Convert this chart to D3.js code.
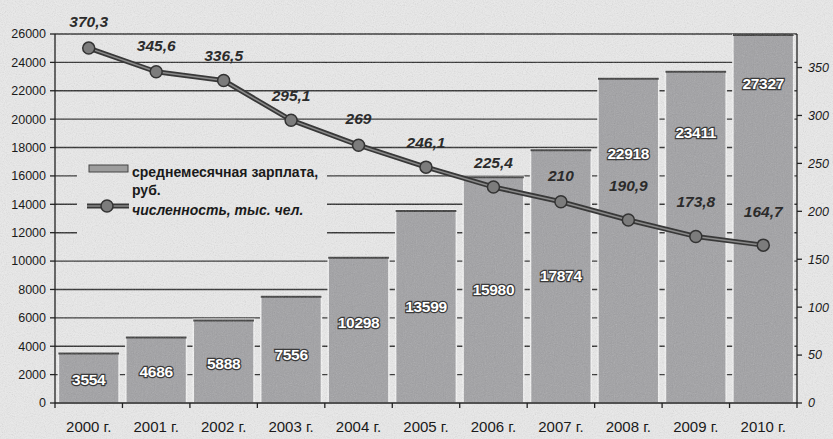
<!DOCTYPE html>
<html><head><meta charset="utf-8">
<script src="https://cdn.jsdelivr.net/npm/d3@7"></script>
<style>
html,body{margin:0;padding:0;background:#e4e4e4;}
svg{display:block;}
</style></head>
<body>
<svg id="chart" width="833" height="439"></svg>
<script>
// ---- data ----
const years = ["2000 г.","2001 г.","2002 г.","2003 г.","2004 г.","2005 г.","2006 г.","2007 г.","2008 г.","2009 г.","2010 г."];
const salary = [3554, 4686, 5888, 7556, 10298, 13599, 15980, 17874, 22918, 23411, 27327];
const staff = [370.3, 345.6, 336.5, 295.1, 269, 246.1, 225.4, 210, 190.9, 173.8, 164.7];
const staffLabels = ["370,3","345,6","336,5","295,1","269","246,1","225,4","210","190,9","173,8","164,7"];
const leftTicks = [0,2000,4000,6000,8000,10000,12000,14000,16000,18000,20000,22000,24000,26000];
const rightTicks = [0,50,100,150,200,250,300,350];
const legendLabels = ["среднемесячная зарплата,", "руб.", "численность, тыс. чел."];

// ---- layout (pixels) ----
const L = 55, R = 797, T = 34, B = 403;
const barLabelDy = [27,35,44,59,66,97,113,126,76,62,50];
const lineLabelDy = [27,26,25,25,27,25,24,26,34,35,34];
const FONT = "'Liberation Sans', Arial, sans-serif";

const svg = d3.select("#chart");
const defs = svg.append("defs");
const f = defs.append("filter").attr("id","noise").attr("x",0).attr("y",0).attr("width","100%").attr("height","100%");
f.append("feTurbulence").attr("type","fractalNoise").attr("baseFrequency",0.9).attr("numOctaves",2).attr("seed",3).attr("result","n");
f.append("feColorMatrix").attr("type","saturate").attr("values",0);
const ct = f.append("feComponentTransfer");
ct.append("feFuncA").attr("type","linear").attr("slope",0.3);
defs.append("clipPath").attr("id","plotclip").append("rect").attr("x",L-2).attr("y",T).attr("width",R-L+4).attr("height",B-T);

svg.append("rect").attr("width",833).attr("height",439).attr("fill","#ebebeb");

const x = d3.scaleBand().domain(years).range([L,R]).paddingInner(0.1).paddingOuter(0.05);
const yL = d3.scaleLinear().domain([0,26000]).range([B,T]);
const yR = d3.scaleLinear().domain([0,385]).range([B,T]);

// gridlines
svg.append("g").selectAll("line").data(leftTicks.filter(d=>d>0)).join("line")
  .attr("x1",L).attr("x2",R).attr("y1",d=>yL(d)).attr("y2",d=>yL(d))
  .attr("stroke","#2a2a2a").attr("stroke-width",1.4);

// legend box mask
svg.append("rect").attr("x",77).attr("y",152).attr("width",250).attr("height",92).attr("fill","#ebebeb");

// bars
const bars = svg.append("g").attr("clip-path","url(#plotclip)");
bars.selectAll("rect").data(salary).join("rect")
  .attr("x",(d,i)=>x(years[i])).attr("width",x.bandwidth())
  .attr("y",d=>yL(d)).attr("height",d=>B-yL(d))
  .attr("fill","#a0a0a3").attr("stroke","#f6f6f6").attr("stroke-width",1.5);
bars.selectAll("line.top").data(salary).join("line").attr("class","top")
  .attr("x1",(d,i)=>x(years[i])).attr("x2",(d,i)=>x(years[i])+x.bandwidth())
  .attr("y1",d=>Math.max(yL(d),T)+1).attr("y2",d=>Math.max(yL(d),T)+1)
  .attr("stroke","#3a3a3a").attr("stroke-width",2);

// noise overlay
svg.append("rect").attr("width",833).attr("height",439).attr("filter","url(#noise)");

// axes lines
const ax = svg.append("g").attr("stroke","#222").attr("stroke-width",1.3);
ax.append("line").attr("x1",L).attr("x2",L).attr("y1",T).attr("y2",B);
ax.append("line").attr("x1",L).attr("x2",R).attr("y1",B).attr("y2",B);
ax.append("line").attr("x1",R).attr("x2",R).attr("y1",T).attr("y2",B);
ax.selectAll("line.lt").data(leftTicks).join("line").attr("class","lt")
  .attr("x1",L-5).attr("x2",L).attr("y1",d=>yL(d)).attr("y2",d=>yL(d));
ax.selectAll("line.rt").data(rightTicks).join("line").attr("class","rt")
  .attr("x1",R).attr("x2",R+5).attr("y1",d=>yR(d)).attr("y2",d=>yR(d));
const bounds = years.map(d=>x(d)-x.step()*x.paddingInner()/2).concat([R]);
bounds[0] = L;
ax.selectAll("line.xt").data(bounds).join("line").attr("class","xt")
  .attr("x1",d=>d).attr("x2",d=>d).attr("y1",B).attr("y2",B+5);

// axis labels
svg.append("g").selectAll("text").data(leftTicks).join("text")
  .attr("x",L-9).attr("y",d=>yL(d)).attr("dy","0.35em").attr("text-anchor","end")
  .attr("font-family",FONT).attr("font-size",12.5).attr("fill","#1a1a1a").text(d=>d);
svg.append("g").selectAll("text").data(rightTicks).join("text")
  .attr("x",R+11).attr("y",d=>yR(d)).attr("dy","0.35em").attr("text-anchor","start")
  .attr("font-family",FONT).attr("font-size",12.5).attr("font-style","italic").attr("fill","#1a1a1a").text(d=>d);
svg.append("g").selectAll("text").data(years).join("text")
  .attr("x",d=>x(d)+x.bandwidth()/2).attr("y",432).attr("text-anchor","middle")
  .attr("font-family",FONT).attr("font-size",15).attr("fill","#1a1a1a").text(d=>d);

// bar labels
svg.append("g").selectAll("text").data(salary).join("text")
  .attr("x",(d,i)=>x(years[i])+x.bandwidth()/2)
  .attr("y",(d,i)=>Math.max(yL(d),T)+barLabelDy[i]).attr("dy","0.35em")
  .attr("text-anchor","middle").attr("font-family",FONT).attr("font-size",15.5).attr("font-weight","bold")
  .attr("fill","#ffffff").attr("stroke","#3a3a3a").attr("stroke-width",2.4).attr("paint-order","stroke")
  .attr("letter-spacing",-0.3).text(d=>d);

// line
const cx = (d,i)=>x(years[i])+x.bandwidth()/2;
const line = d3.line().x((d,i)=>cx(d,i)).y(d=>yR(d));
svg.append("path").datum(staff).attr("d",line).attr("fill","none").attr("stroke","#383838").attr("stroke-width",5).attr("stroke-linejoin","round");
svg.append("path").datum(staff).attr("d",line).attr("fill","none").attr("stroke","#8a8a8a").attr("stroke-width",1.5);
svg.append("g").selectAll("circle").data(staff).join("circle")
  .attr("cx",cx).attr("cy",d=>yR(d)).attr("r",6)
  .attr("fill","#7c7c7c").attr("stroke","#333").attr("stroke-width",1.5);
svg.append("g").selectAll("text").data(staff).join("text")
  .attr("x",cx).attr("y",(d,i)=>yR(d)-lineLabelDy[i]).attr("dy","0.35em")
  .attr("text-anchor","middle").attr("font-family",FONT).attr("font-size",15.5)
  .attr("font-weight","bold").attr("font-style","italic").attr("fill","#2b2b2b")
  .text((d,i)=>staffLabels[i]);

// legend
const lg = svg.append("g");
lg.append("rect").attr("x",89).attr("y",165).attr("width",39).attr("height",7).attr("fill","#9d9d9d").attr("stroke","#444").attr("stroke-width",1);
lg.append("text").attr("x",132).attr("y",177).attr("font-family",FONT).attr("font-size",14).attr("font-weight","bold").attr("fill","#1a1a1a").text(legendLabels[0]);
lg.append("text").attr("x",132).attr("y",195).attr("font-family",FONT).attr("font-size",14).attr("font-weight","bold").attr("fill","#1a1a1a").text(legendLabels[1]);
lg.append("line").attr("x1",87).attr("x2",129).attr("y1",206).attr("y2",206).attr("stroke","#383838").attr("stroke-width",5);
lg.append("line").attr("x1",87).attr("x2",129).attr("y1",206).attr("y2",206).attr("stroke","#8a8a8a").attr("stroke-width",1.5);
lg.append("circle").attr("cx",107).attr("cy",206).attr("r",6).attr("fill","#7c7c7c").attr("stroke","#333").attr("stroke-width",1.5);
lg.append("text").attr("x",132).attr("y",215).attr("font-family",FONT).attr("font-size",14).attr("font-weight","bold").attr("font-style","italic").attr("fill","#1a1a1a").text(legendLabels[2]);
</script>
</body></html>
